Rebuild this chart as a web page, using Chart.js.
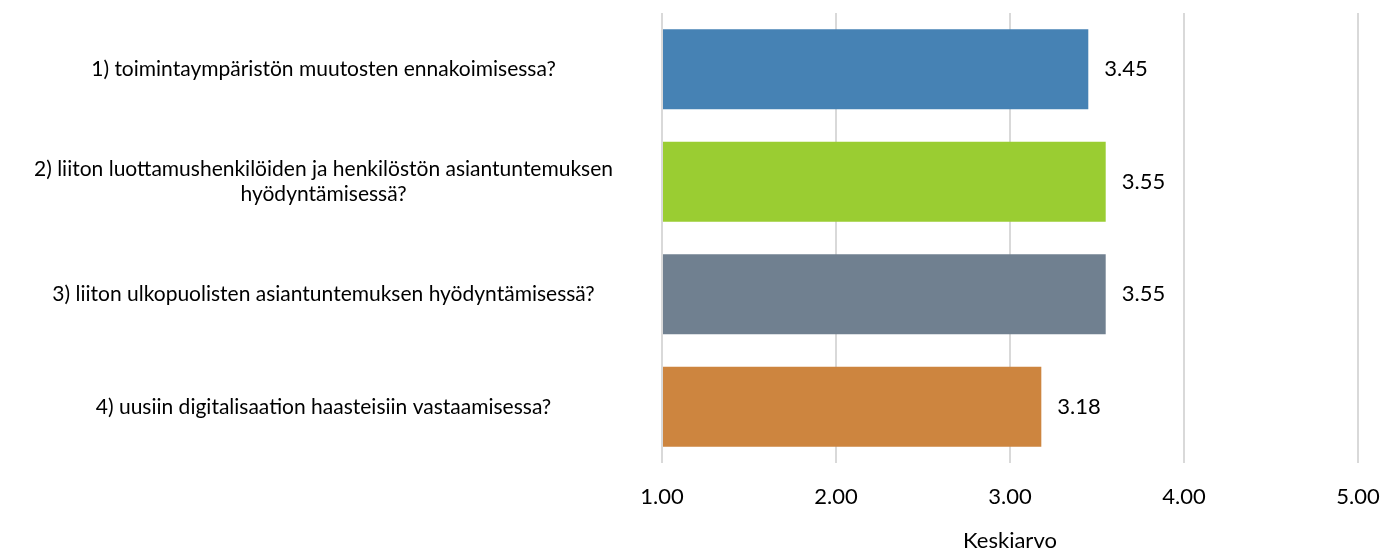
<!DOCTYPE html>
<html>
<head>
<meta charset="utf-8">
<script src="https://cdn.jsdelivr.net/npm/chart.js"></script>
<style>
  html, body { margin: 0; padding: 0; background: #fff; }
  #wrap { width: 1385px; height: 554px; }
</style>
</head>
<body>
<div id="wrap"><canvas id="grafiikka"></canvas></div>
<script>
// Kysymykset (y-akseli)
const kategoriat = [
  '1) toimintaympäristön muutosten ennakoimisessa?',
  ['2) liiton luottamushenkilöiden ja henkilöstön asiantuntemuksen', 'hyödyntämisessä?'],
  '3) liiton ulkopuolisten asiantuntemuksen hyödyntämisessä?',
  '4) uusiin digitalisaation haasteisiin vastaamisessa?'
];
const keskiarvot = [3.45, 3.55, 3.55, 3.18];
const palkkiVarit = ['#4682b4', '#9acd32', '#708090', '#cd853f'];
const asteikko = [1, 2, 3, 4, 5];
const akseliOtsikko = 'Keskiarvo';

const fontti = 'Lato, "Open Sans", sans-serif';

// arvot palkkien perään
const arvoTekstit = {
  id: 'arvoTekstit',
  afterDatasetsDraw(chart) {
    const ctx = chart.ctx;
    const meta = chart.getDatasetMeta(0);
    ctx.save();
    ctx.font = '22px ' + fontti;
    ctx.fillStyle = '#000';
    ctx.textAlign = 'left';
    ctx.textBaseline = 'middle';
    meta.data.forEach((bar, i) => {
      ctx.fillText(keskiarvot[i].toFixed(2), bar.x + 16, bar.y);
    });
    ctx.restore();
  }
};

new Chart(document.getElementById('grafiikka'), {
  type: 'bar',
  data: {
    labels: kategoriat,
    datasets: [{
      label: akseliOtsikko,
      data: keskiarvot,
      backgroundColor: palkkiVarit,
      base: asteikko[0],
      categoryPercentage: 1,
      barPercentage: 0.71
    }]
  },
  options: {
    indexAxis: 'y',
    responsive: true,
    maintainAspectRatio: false,
    animation: false,
    layout: { padding: { top: 13, right: 27, left: 0, bottom: 0 } },
    plugins: {
      legend: { display: false },
      tooltip: { enabled: false }
    },
    scales: {
      x: {
        min: asteikko[0],
        max: asteikko[asteikko.length - 1],
        afterBuildTicks: (scale) => { scale.ticks = asteikko.map(v => ({ value: v })); },
        afterFit: (scale) => {
          scale.height = 91;
          scale.paddingLeft = 0;
          scale.paddingRight = 0;
        },
        ticks: {
          callback: (v) => Number(v).toFixed(2),
          color: '#000',
          font: { family: fontti, size: 22 },
          padding: 21,
          maxRotation: 0
        },
        grid: { color: '#d9d9d9', lineWidth: 2, drawTicks: false },
        border: { display: false },
        title: {
          display: true,
          text: akseliOtsikko,
          color: '#000',
          font: { family: fontti, size: 22 },
          padding: { top: 0, bottom: 0 }
        }
      },
      y: {
        afterFit: (scale) => {
          scale.width = 662;
          scale.paddingTop = 0;
          scale.paddingBottom = 0;
        },
        ticks: {
          color: '#000',
          font: { family: fontti, size: 21 },
          crossAlign: 'center',
          padding: 49
        },
        grid: { display: false, drawTicks: false },
        border: { display: false }
      }
    }
  },
  plugins: [arvoTekstit]
});
</script>
</body>
</html>
